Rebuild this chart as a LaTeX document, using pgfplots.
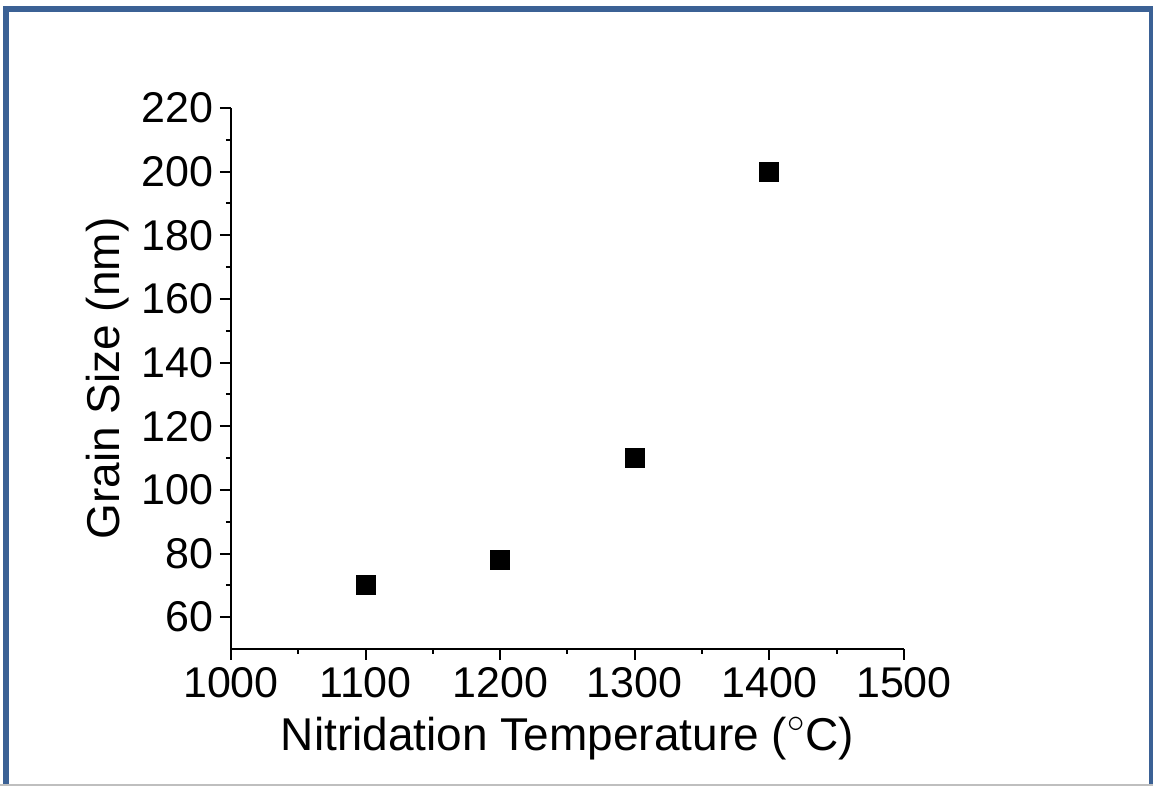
\documentclass[border=0pt]{standalone}
\usepackage{pgfplots}
\pgfplotsset{compat=1.18}
\usepackage{fontspec}
\setmainfont{Liberation Sans}
\definecolor{frameblue}{HTML}{3B6195}
\begin{document}
\begin{tikzpicture}
\path[use as bounding box] (0,0) rectangle (576.5pt,393pt);
\draw[line width=3pt, color=frameblue] (3pt,0) -- (3pt,388.5pt) -- (575.75pt,388.5pt) -- (575.75pt,0);
\draw[line width=1pt, color=gray!50] (0,0.5pt) -- (576.5pt,0.5pt);
\begin{axis}[
  at={(115.5pt,68.5pt)}, anchor=south west,
  scale only axis, width=336.5pt, height=270.5pt,
  axis lines=left, axis line style={-, line width=1pt},
  xmin=1000, xmax=1500, ymin=50, ymax=220,
  xtick={1000,1100,...,1500}, ytick={60,80,...,220},
  minor x tick num=1, minor y tick num=1,
  tick align=outside,
  major tick length=5.5pt, minor tick length=2.5pt,
  every tick/.style={black, line width=1pt},
  /pgf/number format/assume math mode=true,
  /pgf/number format/1000 sep={},
  tick label style={font=\fontsize{21.5}{24}\selectfont},
  xticklabel style={inner sep=0.5pt, yshift=-3pt},
  label style={font=\fontsize{23}{26}\selectfont, inner sep=0pt},
  xlabel={Nitridation Temperature ($^{\circ}$C)},
  ylabel={Grain Size (nm)},
  xlabel style={at={(axis description cs:0.5,-0.166)}, anchor=center},
  ylabel style={at={(axis description cs:-0.184,0.5)}, anchor=center},
  clip=false,
]
\addplot[only marks, mark=square*, mark size=4.75pt, black] coordinates {
  (1100,70) (1200,78) (1300,110) (1400,200)
};
\end{axis}
\end{tikzpicture}
\end{document}
